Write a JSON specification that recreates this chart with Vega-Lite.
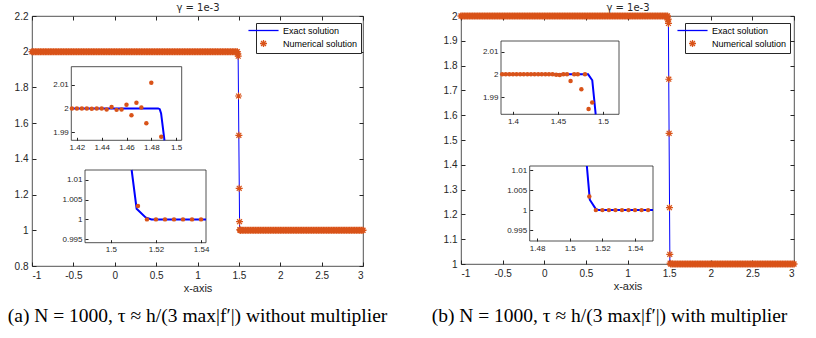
{
  "$schema": "https://vega.github.io/schema/vega-lite/v6.json",
  "padding": {"left": 7, "top": 2, "right": 0, "bottom": 0},
  "background": "white",
  "bounds": "flush",
  "spacing": 98,
  "config": {
    "view": {"stroke": "#262626", "strokeWidth": 0.8},
    "axis": {"domain": false, "grid": false, "labelOverlap": false, "tickCount": 30, "labelFont": "Liberation Sans", "labelFontSize": 10, "labelColor": "#262626", "tickColor": "#262626", "tickSize": -4, "labelPadding": 8, "titleFont": "Liberation Sans", "titleFontWeight": "normal", "titleColor": "#262626", "titleFontSize": 11, "zindex": 1},
    "legend": {"orient": "none", "legendX": 224, "legendY": 7, "strokeColor": "#262626", "fillColor": "white", "padding": 3, "labelFont": "Liberation Sans", "labelFontSize": 9, "labelColor": "black", "symbolSize": 49, "symbolStrokeWidth": 1.3, "rowPadding": 1, "labelOffset": 15},
    "title": {"font": "Liberation Serif", "fontSize": 19.5, "fontWeight": "normal", "color": "black"}
  },
  "datasets": {
    "exact": [{"x":-1,"y":2},{"x":1.487,"y":2},{"x":1.491,"y":1.98},{"x":1.509,"y":1.01},{"x":1.513,"y":1},{"x":3,"y":1}],
    "band": [
      {"x":-1,"y":2},{"x":-0.98,"y":2},{"x":-0.96,"y":2},{"x":-0.94,"y":2},{"x":-0.92,"y":2},{"x":-0.9,"y":2},{"x":-0.88,"y":2},{"x":-0.86,"y":2},{"x":-0.84,"y":2},{"x":-0.82,"y":2},
      {"x":-0.8,"y":2},{"x":-0.78,"y":2},{"x":-0.76,"y":2},{"x":-0.74,"y":2},{"x":-0.72,"y":2},{"x":-0.7,"y":2},{"x":-0.68,"y":2},{"x":-0.66,"y":2},{"x":-0.64,"y":2},{"x":-0.62,"y":2},
      {"x":-0.6,"y":2},{"x":-0.58,"y":2},{"x":-0.56,"y":2},{"x":-0.54,"y":2},{"x":-0.52,"y":2},{"x":-0.5,"y":2},{"x":-0.48,"y":2},{"x":-0.46,"y":2},{"x":-0.44,"y":2},{"x":-0.42,"y":2},
      {"x":-0.4,"y":2},{"x":-0.38,"y":2},{"x":-0.36,"y":2},{"x":-0.34,"y":2},{"x":-0.32,"y":2},{"x":-0.3,"y":2},{"x":-0.28,"y":2},{"x":-0.26,"y":2},{"x":-0.24,"y":2},{"x":-0.22,"y":2},
      {"x":-0.2,"y":2},{"x":-0.18,"y":2},{"x":-0.16,"y":2},{"x":-0.14,"y":2},{"x":-0.12,"y":2},{"x":-0.1,"y":2},{"x":-0.08,"y":2},{"x":-0.06,"y":2},{"x":-0.04,"y":2},{"x":-0.02,"y":2},
      {"x":0,"y":2},{"x":0.02,"y":2},{"x":0.04,"y":2},{"x":0.06,"y":2},{"x":0.08,"y":2},{"x":0.1,"y":2},{"x":0.12,"y":2},{"x":0.14,"y":2},{"x":0.16,"y":2},{"x":0.18,"y":2},
      {"x":0.2,"y":2},{"x":0.22,"y":2},{"x":0.24,"y":2},{"x":0.26,"y":2},{"x":0.28,"y":2},{"x":0.3,"y":2},{"x":0.32,"y":2},{"x":0.34,"y":2},{"x":0.36,"y":2},{"x":0.38,"y":2},
      {"x":0.4,"y":2},{"x":0.42,"y":2},{"x":0.44,"y":2},{"x":0.46,"y":2},{"x":0.48,"y":2},{"x":0.5,"y":2},{"x":0.52,"y":2},{"x":0.54,"y":2},{"x":0.56,"y":2},{"x":0.58,"y":2},
      {"x":0.6,"y":2},{"x":0.62,"y":2},{"x":0.64,"y":2},{"x":0.66,"y":2},{"x":0.68,"y":2},{"x":0.7,"y":2},{"x":0.72,"y":2},{"x":0.74,"y":2},{"x":0.76,"y":2},{"x":0.78,"y":2},
      {"x":0.8,"y":2},{"x":0.82,"y":2},{"x":0.84,"y":2},{"x":0.86,"y":2},{"x":0.88,"y":2},{"x":0.9,"y":2},{"x":0.92,"y":2},{"x":0.94,"y":2},{"x":0.96,"y":2},{"x":0.98,"y":2},
      {"x":1,"y":2},{"x":1.02,"y":2},{"x":1.04,"y":2},{"x":1.06,"y":2},{"x":1.08,"y":2},{"x":1.1,"y":2},{"x":1.12,"y":2},{"x":1.14,"y":2},{"x":1.16,"y":2},{"x":1.18,"y":2},
      {"x":1.2,"y":2},{"x":1.22,"y":2},{"x":1.24,"y":2},{"x":1.26,"y":2},{"x":1.28,"y":2},{"x":1.3,"y":2},{"x":1.32,"y":2},{"x":1.34,"y":2},{"x":1.36,"y":2},{"x":1.38,"y":2},
      {"x":1.4,"y":2},{"x":1.42,"y":2},{"x":1.44,"y":2},{"x":1.46,"y":2},{"x":1.48,"y":2},
      {"x":1.52,"y":1},{"x":1.54,"y":1},{"x":1.56,"y":1},{"x":1.58,"y":1},{"x":1.6,"y":1},{"x":1.62,"y":1},{"x":1.64,"y":1},{"x":1.66,"y":1},{"x":1.68,"y":1},{"x":1.7,"y":1},
      {"x":1.72,"y":1},{"x":1.74,"y":1},{"x":1.76,"y":1},{"x":1.78,"y":1},{"x":1.8,"y":1},{"x":1.82,"y":1},{"x":1.84,"y":1},{"x":1.86,"y":1},{"x":1.88,"y":1},{"x":1.9,"y":1},
      {"x":1.92,"y":1},{"x":1.94,"y":1},{"x":1.96,"y":1},{"x":1.98,"y":1},{"x":2,"y":1},{"x":2.02,"y":1},{"x":2.04,"y":1},{"x":2.06,"y":1},{"x":2.08,"y":1},{"x":2.1,"y":1},
      {"x":2.12,"y":1},{"x":2.14,"y":1},{"x":2.16,"y":1},{"x":2.18,"y":1},{"x":2.2,"y":1},{"x":2.22,"y":1},{"x":2.24,"y":1},{"x":2.26,"y":1},{"x":2.28,"y":1},{"x":2.3,"y":1},
      {"x":2.32,"y":1},{"x":2.34,"y":1},{"x":2.36,"y":1},{"x":2.38,"y":1},{"x":2.4,"y":1},{"x":2.42,"y":1},{"x":2.44,"y":1},{"x":2.46,"y":1},{"x":2.48,"y":1},{"x":2.5,"y":1},
      {"x":2.52,"y":1},{"x":2.54,"y":1},{"x":2.56,"y":1},{"x":2.58,"y":1},{"x":2.6,"y":1},{"x":2.62,"y":1},{"x":2.64,"y":1},{"x":2.66,"y":1},{"x":2.68,"y":1},{"x":2.7,"y":1},
      {"x":2.72,"y":1},{"x":2.74,"y":1},{"x":2.76,"y":1},{"x":2.78,"y":1},{"x":2.8,"y":1},{"x":2.82,"y":1},{"x":2.84,"y":1},{"x":2.86,"y":1},{"x":2.88,"y":1},{"x":2.9,"y":1},
      {"x":2.92,"y":1},{"x":2.94,"y":1},{"x":2.96,"y":1},{"x":2.98,"y":1},{"x":3,"y":1}
    ],
    "shockA": [{"x":1.488,"y":1.988},{"x":1.492,"y":1.975},{"x":1.496,"y":1.752},{"x":1.5,"y":1.532},{"x":1.504,"y":1.235},{"x":1.508,"y":1.048},{"x":1.512,"y":1.0034},{"x":1.516,"y":1}],
    "shockB": [{"x":1.484,"y":1.9847},{"x":1.488,"y":1.9876},{"x":1.492,"y":1.97},{"x":1.496,"y":1.745},{"x":1.5,"y":1.527},{"x":1.504,"y":1.227},{"x":1.508,"y":1.039},{"x":1.512,"y":1.0034}],
    "a1line": [{"x":1.4155,"y":2},{"x":1.4855,"y":2},{"x":1.4868,"y":1.9997},{"x":1.4879,"y":1.9979},{"x":1.4906,"y":1.9865}],
    "a1dots": [{"x":1.416,"y":2},{"x":1.42,"y":2},{"x":1.424,"y":2},{"x":1.428,"y":2},{"x":1.432,"y":1.9999},{"x":1.436,"y":2},{"x":1.44,"y":2},{"x":1.444,"y":1.9996},{"x":1.448,"y":2.0006},{"x":1.452,"y":1.9994},{"x":1.456,"y":1.9996},{"x":1.46,"y":2.0016},{"x":1.464,"y":1.9971},{"x":1.468,"y":2.0024},{"x":1.472,"y":2.0004},{"x":1.476,"y":1.9937},{"x":1.48,"y":2.0109},{"x":1.488,"y":1.988}],
    "a2line": [{"x":1.5092,"y":1.0125},{"x":1.5114,"y":1.0027},{"x":1.5154,"y":1.0005},{"x":1.518,"y":1},{"x":1.5422,"y":1}],
    "a2dots": [{"x":1.512,"y":1.0034},{"x":1.516,"y":1},{"x":1.52,"y":1},{"x":1.524,"y":1},{"x":1.528,"y":1},{"x":1.532,"y":1},{"x":1.536,"y":1},{"x":1.54,"y":1}],
    "b1line": [{"x":1.3867,"y":2},{"x":1.4835,"y":2},{"x":1.4881,"y":1.9974},{"x":1.4919,"y":1.9824}],
    "b1dots": [{"x":1.388,"y":2},{"x":1.392,"y":2},{"x":1.396,"y":2},{"x":1.4,"y":2},{"x":1.404,"y":2},{"x":1.408,"y":2},{"x":1.412,"y":2},{"x":1.416,"y":2},{"x":1.42,"y":2},{"x":1.424,"y":2},{"x":1.428,"y":2},{"x":1.432,"y":2},{"x":1.436,"y":2},{"x":1.44,"y":2},{"x":1.444,"y":2},{"x":1.448,"y":1.9998},{"x":1.452,"y":1.9997},{"x":1.456,"y":2},{"x":1.46,"y":2},{"x":1.464,"y":1.9971},{"x":1.468,"y":2},{"x":1.472,"y":2},{"x":1.476,"y":1.9934},{"x":1.48,"y":2},{"x":1.484,"y":1.9847},{"x":1.488,"y":1.9876}],
    "b2line": [{"x":1.5105,"y":1.011},{"x":1.5123,"y":1.0026},{"x":1.5161,"y":1.0002},{"x":1.518,"y":1},{"x":1.551,"y":1}],
    "b2dots": [{"x":1.512,"y":1.0034},{"x":1.516,"y":1},{"x":1.52,"y":1},{"x":1.524,"y":1},{"x":1.528,"y":1},{"x":1.532,"y":1},{"x":1.536,"y":1},{"x":1.54,"y":1},{"x":1.544,"y":1},{"x":1.548,"y":1}]
  },
  "resolve": {"scale": {"color": "independent", "shape": "independent"}, "legend": {"color": "independent", "shape": "independent"}},
  "hconcat": [
    {
      "width": 331, "height": 250,
      "title": {"text": "(a) N = 1000, τ ≈ h/(3 max|f′|) without multiplier", "orient": "bottom", "dx": 0, "offset": 14},
      "resolve": {"scale": {"x": "independent", "y": "independent"}, "axis": {"x": "independent", "y": "independent"}},
      "layer": [
        {
          "layer": [
            {"data": {"name": "exact"}, "mark": {"type": "line", "strokeWidth": 1},
             "encoding": {
               "x": {"field": "x", "type": "quantitative", "scale": {"domain": [-1, 3], "nice": false, "zero": false}, "axis": {"orient": "bottom", "labelOverlap": false, "tickCount": 30, "values": [-1,-0.5,0,0.5,1,1.5,2,2.5,3], "format": "~g", "labelExpr": "replace(datum.label, '\u2212', '-')", "title": "x-axis", "titlePadding": 2}},
               "y": {"field": "y", "type": "quantitative", "scale": {"domain": [0.8, 2.2], "nice": false, "zero": false}, "axis": {"orient": "left", "labelOverlap": false, "tickCount": 30, "values": [0.8,1,1.2,1.4,1.6,1.8,2,2.2], "format": "~g", "title": null}},
               "color": {"datum": "Exact solution", "type": "nominal", "scale": {"domain": ["Exact solution", "Numerical solution"], "range": ["#0000ff", "#d95319"]}, "legend": {"title": null}}
             }},
            {"data": {"name": "band"}, "mark": {"type": "point", "filled": false, "size": 49, "strokeWidth": 1.5, "opacity": 1},
             "encoding": {
               "x": {"field": "x", "type": "quantitative"},
               "y": {"field": "y", "type": "quantitative"},
               "color": {"datum": "Numerical solution", "type": "nominal", "legend": {"title": null}},
               "shape": {"datum": "Numerical solution", "type": "nominal", "scale": {"domain": ["Exact solution", "Numerical solution"], "range": ["M-4.3,0L4.3,0", "M-1,0L1,0M0,-1L0,1M-0.7,-0.7L0.7,0.7M-0.7,0.7L0.7,-0.7"]}, "legend": {"title": null}}
             }},
            {"data": {"name": "shockA"}, "mark": {"type": "point", "filled": false, "size": 49, "strokeWidth": 1.2, "opacity": 1},
             "encoding": {
               "x": {"field": "x", "type": "quantitative"},
               "y": {"field": "y", "type": "quantitative"},
               "color": {"datum": "Numerical solution", "type": "nominal", "legend": {"title": null}},
               "shape": {"datum": "Numerical solution", "type": "nominal", "legend": {"title": null}}
             }}
          ]
        },
        {"data": {"values": [{}]}, "mark": {"type": "point", "opacity": 0},
         "encoding": {
           "x": {"datum": -1, "type": "quantitative", "scale": {"domain": [-1, 3], "nice": false, "zero": false}, "axis": {"orient": "top", "labels": false, "tickCount": 30, "values": [-1,-0.5,0,0.5,1,1.5,2,2.5,3], "title": "γ = 1e-3", "titleFont": "DejaVu Sans", "titleFontSize": 10, "titlePadding": 3}},
           "y": {"datum": 0.8, "type": "quantitative", "scale": {"domain": [0.8, 2.2], "nice": false, "zero": false}, "axis": {"orient": "right", "labels": false, "tickCount": 30, "values": [0.8,1,1.2,1.4,1.6,1.8,2,2.2], "title": null}}
         }},
        {
          "layer": [
            {"data": {"values": [{}]}, "mark": {"type": "rect", "filled": false, "stroke": "#262626", "strokeWidth": 0.8},
             "encoding": {
               "x": {"datum": 1.4155, "type": "quantitative", "scale": {"domain": [1.4155, 1.5045], "range": [39.3, 149.7], "nice": false, "zero": false}, "axis": {"orient": "bottom", "labelOverlap": false, "tickCount": 30, "offset": -125.7, "values": [1.42,1.44,1.46,1.48,1.5], "format": "~g", "labelFontSize": 8, "tickSize": -3, "labelPadding": 6, "title": null}},
               "x2": {"datum": 1.5045},
               "y": {"datum": 1.9865, "type": "quantitative", "scale": {"domain": [1.9865, 2.0177], "range": [124.3, 50.7], "nice": false, "zero": false}, "axis": {"orient": "left", "labelOverlap": false, "tickCount": 30, "offset": -39.3, "values": [1.99,2,2.01], "format": "~g", "labelFontSize": 8, "tickSize": -3, "labelPadding": 6, "title": null}},
               "y2": {"datum": 2.0177}
             }},
            {"data": {"name": "a1line"}, "mark": {"type": "line", "color": "#0000ff", "strokeWidth": 2},
             "encoding": {"x": {"field": "x", "type": "quantitative"}, "y": {"field": "y", "type": "quantitative"}}},
            {"data": {"name": "a1dots"}, "mark": {"type": "circle", "color": "#d95319", "size": 20, "opacity": 1},
             "encoding": {"x": {"field": "x", "type": "quantitative"}, "y": {"field": "y", "type": "quantitative"}}}
          ]
        },
        {
          "layer": [
            {"data": {"values": [{}]}, "mark": {"type": "rect", "filled": false, "stroke": "#262626", "strokeWidth": 0.8},
             "encoding": {
               "x": {"datum": 1.4885, "type": "quantitative", "scale": {"domain": [1.4885, 1.5422], "range": [53, 174], "nice": false, "zero": false}, "axis": {"orient": "bottom", "labelOverlap": false, "tickCount": 30, "offset": -23.3, "values": [1.5,1.52,1.54], "format": "~g", "labelFontSize": 8, "tickSize": -3, "labelPadding": 6, "title": null}},
               "x2": {"datum": 1.5422},
               "y": {"datum": 0.9941, "type": "quantitative", "scale": {"domain": [0.9941, 1.0125], "range": [226.7, 154], "nice": false, "zero": false}, "axis": {"orient": "left", "labelOverlap": false, "tickCount": 30, "offset": -53, "values": [0.995,1,1.005,1.01], "format": "~g", "labelFontSize": 8, "tickSize": -3, "labelPadding": 6, "title": null}},
               "y2": {"datum": 1.0125}
             }},
            {"data": {"name": "a2line"}, "mark": {"type": "line", "color": "#0000ff", "strokeWidth": 2},
             "encoding": {"x": {"field": "x", "type": "quantitative"}, "y": {"field": "y", "type": "quantitative"}}},
            {"data": {"name": "a2dots"}, "mark": {"type": "circle", "color": "#d95319", "size": 20, "opacity": 1},
             "encoding": {"x": {"field": "x", "type": "quantitative"}, "y": {"field": "y", "type": "quantitative"}}}
          ]
        }
      ]
    },
    {
      "width": 333, "height": 248,
      "title": {"text": "(b) N = 1000, τ ≈ h/(3 max|f′|) with multiplier", "orient": "bottom", "dx": -18, "offset": 16},
      "resolve": {"scale": {"x": "independent", "y": "independent"}, "axis": {"x": "independent", "y": "independent"}},
      "layer": [
        {
          "layer": [
            {"data": {"name": "exact"}, "mark": {"type": "line", "strokeWidth": 1},
             "encoding": {
               "x": {"field": "x", "type": "quantitative", "scale": {"domain": [-1, 3], "nice": false, "zero": false}, "axis": {"orient": "bottom", "labelOverlap": false, "tickCount": 30, "values": [-1,-0.5,0,0.5,1,1.5,2,2.5,3], "format": "~g", "labelExpr": "replace(datum.label, '\u2212', '-')", "title": "x-axis", "titlePadding": 2}},
               "y": {"field": "y", "type": "quantitative", "scale": {"domain": [1, 2], "nice": false, "zero": false}, "axis": {"orient": "left", "labelOverlap": false, "tickCount": 30, "values": [1,1.1,1.2,1.3,1.4,1.5,1.6,1.7,1.8,1.9,2], "format": "~g", "title": null}},
               "color": {"datum": "Exact solution", "type": "nominal", "scale": {"domain": ["Exact solution", "Numerical solution"], "range": ["#0000ff", "#d95319"]}, "legend": {"title": null}}
             }},
            {"data": {"name": "band"}, "mark": {"type": "point", "filled": false, "size": 49, "strokeWidth": 1.5, "opacity": 1},
             "encoding": {
               "x": {"field": "x", "type": "quantitative"},
               "y": {"field": "y", "type": "quantitative"},
               "color": {"datum": "Numerical solution", "type": "nominal", "legend": {"title": null}},
               "shape": {"datum": "Numerical solution", "type": "nominal", "scale": {"domain": ["Exact solution", "Numerical solution"], "range": ["M-4.3,0L4.3,0", "M-1,0L1,0M0,-1L0,1M-0.7,-0.7L0.7,0.7M-0.7,0.7L0.7,-0.7"]}, "legend": {"title": null}}
             }},
            {"data": {"name": "shockB"}, "mark": {"type": "point", "filled": false, "size": 49, "strokeWidth": 1.2, "opacity": 1},
             "encoding": {
               "x": {"field": "x", "type": "quantitative"},
               "y": {"field": "y", "type": "quantitative"},
               "color": {"datum": "Numerical solution", "type": "nominal", "legend": {"title": null}},
               "shape": {"datum": "Numerical solution", "type": "nominal", "legend": {"title": null}}
             }}
          ]
        },
        {"data": {"values": [{}]}, "mark": {"type": "point", "opacity": 0},
         "encoding": {
           "x": {"datum": -1, "type": "quantitative", "scale": {"domain": [-1, 3], "nice": false, "zero": false}, "axis": {"orient": "top", "labels": false, "tickCount": 30, "values": [-1,-0.5,0,0.5,1,1.5,2,2.5,3], "title": "γ = 1e-3", "titleFont": "DejaVu Sans", "titleFontSize": 10, "titlePadding": 3}},
           "y": {"datum": 1, "type": "quantitative", "scale": {"domain": [1, 2], "nice": false, "zero": false}, "axis": {"orient": "right", "labels": false, "tickCount": 30, "values": [1,1.1,1.2,1.3,1.4,1.5,1.6,1.7,1.8,1.9,2], "title": null}}
         }},
        {
          "layer": [
            {"data": {"values": [{}]}, "mark": {"type": "rect", "filled": false, "stroke": "#262626", "strokeWidth": 0.8},
             "encoding": {
               "x": {"datum": 1.3867, "type": "quantitative", "scale": {"domain": [1.3867, 1.5178], "range": [40, 158], "nice": false, "zero": false}, "axis": {"orient": "bottom", "labelOverlap": false, "tickCount": 30, "offset": -149.7, "values": [1.4,1.45,1.5], "format": "~g", "labelFontSize": 8, "tickSize": -3, "labelPadding": 6, "title": null}},
               "x2": {"datum": 1.5178},
               "y": {"datum": 1.9824, "type": "quantitative", "scale": {"domain": [1.9824, 2.0147], "range": [98.3, 25], "nice": false, "zero": false}, "axis": {"orient": "left", "labelOverlap": false, "tickCount": 30, "offset": -40, "values": [1.99,2,2.01], "format": "~g", "labelFontSize": 8, "tickSize": -3, "labelPadding": 6, "title": null}},
               "y2": {"datum": 2.0147}
             }},
            {"data": {"name": "b1line"}, "mark": {"type": "line", "color": "#0000ff", "strokeWidth": 2},
             "encoding": {"x": {"field": "x", "type": "quantitative"}, "y": {"field": "y", "type": "quantitative"}}},
            {"data": {"name": "b1dots"}, "mark": {"type": "circle", "color": "#d95319", "size": 20, "opacity": 1},
             "encoding": {"x": {"field": "x", "type": "quantitative"}, "y": {"field": "y", "type": "quantitative"}}}
          ]
        },
        {
          "layer": [
            {"data": {"values": [{}]}, "mark": {"type": "rect", "filled": false, "stroke": "#262626", "strokeWidth": 0.8},
             "encoding": {
               "x": {"datum": 1.4755, "type": "quantitative", "scale": {"domain": [1.4755, 1.551], "range": [68.7, 192], "nice": false, "zero": false}, "axis": {"orient": "bottom", "labelOverlap": false, "tickCount": 30, "offset": -23, "values": [1.48,1.5,1.52,1.54], "format": "~g", "labelFontSize": 8, "tickSize": -3, "labelPadding": 6, "title": null}},
               "x2": {"datum": 1.551},
               "y": {"datum": 0.9923, "type": "quantitative", "scale": {"domain": [0.9923, 1.011], "range": [225, 150], "nice": false, "zero": false}, "axis": {"orient": "left", "labelOverlap": false, "tickCount": 30, "offset": -68.7, "values": [0.995,1,1.005,1.01], "format": "~g", "labelFontSize": 8, "tickSize": -3, "labelPadding": 6, "title": null}},
               "y2": {"datum": 1.011}
             }},
            {"data": {"name": "b2line"}, "mark": {"type": "line", "color": "#0000ff", "strokeWidth": 2},
             "encoding": {"x": {"field": "x", "type": "quantitative"}, "y": {"field": "y", "type": "quantitative"}}},
            {"data": {"name": "b2dots"}, "mark": {"type": "circle", "color": "#d95319", "size": 20, "opacity": 1},
             "encoding": {"x": {"field": "x", "type": "quantitative"}, "y": {"field": "y", "type": "quantitative"}}}
          ]
        }
      ]
    }
  ]
}
